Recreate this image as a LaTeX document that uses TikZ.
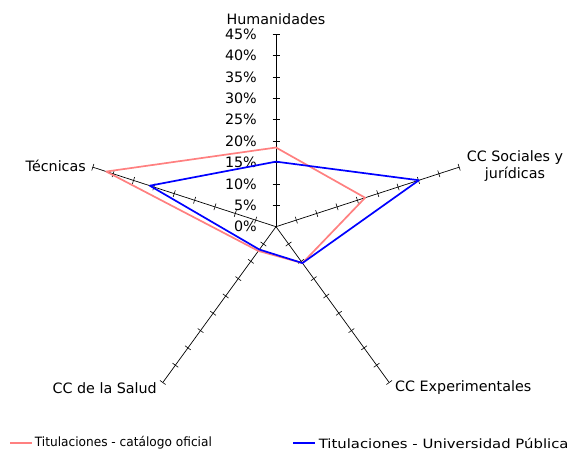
\documentclass[tikz,border=0pt]{standalone}
\usepackage{fontspec}
\setmainfont{DejaVu Sans}
\definecolor{oficialc}{RGB}{255,128,128}
\begin{document}
\begin{tikzpicture}[x=1pt,y=1pt,inner sep=0,
		axis/.style={black,line width=.7pt},
		tickmark/.style={black,line width=.6pt},
		lab/.style={font=\fontsize{14.3}{17}\selectfont},
		leg/.style={text=black,font=\fontsize{12.8}{15}\selectfont},
		oficial/.style={oficialc,line width=1.7pt,line join=round},
		publica/.style={blue,line width=1.7pt,line join=round}]
		\useasboundingbox (0,0) rectangle (571,453);
		\coordinate (O) at (276,226.3);
		%one axis every 72 degrees, 45% at the end, a tick every 5%
		\foreach \ang/\nm in {90/H,18/S,-54/E,-126/C,162/T}{
			\coordinate (\nm) at ([shift={(O)}]\ang:192.6);
			\draw[axis] (O)--(\nm);
			\foreach \k in {1,...,9}{
				\pgfmathsetmacro{\rr}{\k*21.4}
				\draw[tickmark] ([shift={(O)}]\ang:\rr)++(\ang+90:3.5)--++(\ang-90:7);
			}
		}
		\foreach \k [evaluate=\k as \pc using int(5*\k)] in {0,...,9}
			\node[lab,anchor=east] (y\k) at (257,226.3+\k*21.4){\pc\%};
		%data in percent, radius = value*4.28
		\foreach \ang/\v/\nm in {90/18.5/a1,18/21.9/a2,-54/10.5/a3,-126/7/a4,162/41.7/a5}{
			\pgfmathsetmacro{\rr}{\v*4.28}
			\coordinate (\nm) at ([shift={(O)}]\ang:\rr);
		}
		\foreach \ang/\v/\nm in {90/15.2/b1,18/35.1/b2,-54/10.5/b3,-126/6.6/b4,162/31/b5}{
			\pgfmathsetmacro{\rr}{\v*4.28}
			\coordinate (\nm) at ([shift={(O)}]\ang:\rr);
		}
		\draw[oficial] (a1)--(a2)--(a3)--(a4)--(a5)--cycle;
		\draw[publica] (b1)--(b2)--(b3)--(b4)--(b5)--cycle;
		\node[lab] (hum) at (276,434){Humanidades};
		\node[lab,align=center] (soc) at (515,287){CC Sociales y\\jurídicas};
		\node[lab,anchor=west] (exp) at (395,65){CC Experimentales};
		\node[lab,anchor=east] (sal) at (157,65){CC de la Salud};
		\node[lab,anchor=east] (tec) at (86,287){Técnicas};
		%legend
		\coordinate (l1) at (10,10);
		\coordinate (l2) at (293,10);
		\draw[oficial] (l1)--++(22,0)node[leg,right=2pt](t1){\scalebox{.95}[1]{Titulaciones - catálogo oficial}};
		\draw[publica] (l2)--++(22,0)node[leg,right=3pt](t2){\scalebox{1.16}[1]{Titulaciones - Universidad Pública}};
	\end{tikzpicture}
\end{document}
